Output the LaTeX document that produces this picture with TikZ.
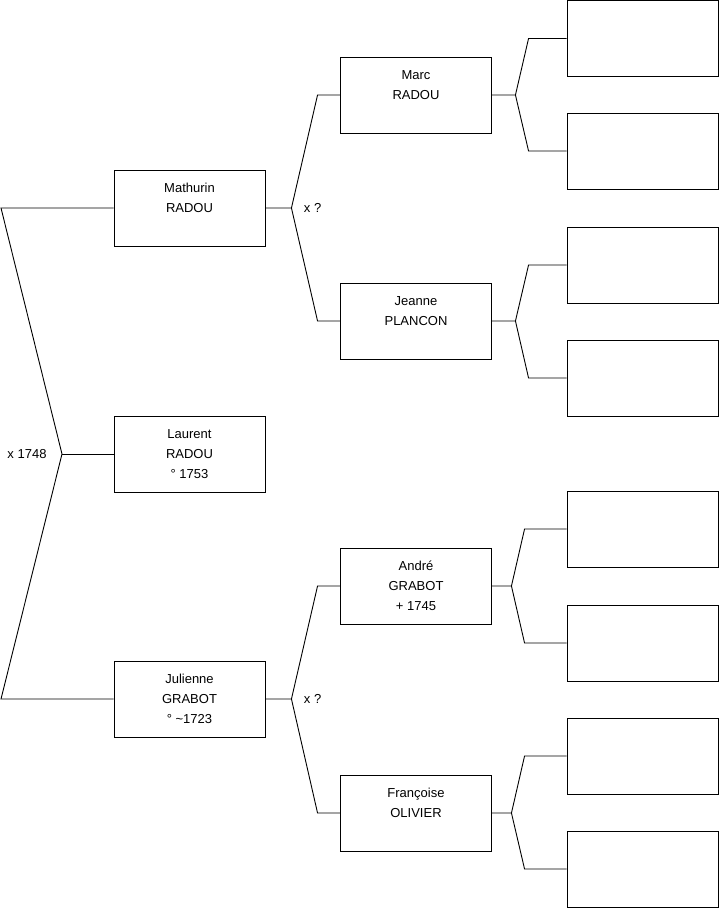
\documentclass[tikz,border=0pt]{standalone}
\usepackage{fontspec}
\setmainfont{Liberation Sans}
\usetikzlibrary{positioning}
\newcommand{\pers}[3]{\strut#1\\\strut#2\\\strut#3}

\begin{document}
\begin{tikzpicture}[x=1pt,y=-1pt,font=\fontsize{13}{20}\selectfont,
  box/.style={draw,rectangle,line width=0.9pt,minimum width=151pt,minimum height=76pt,inner sep=0pt,align=center},
  ln/.style={line width=0.9pt}]
  \useasboundingbox (0,0) rectangle (719,908);
  % first generation
  \node[box] (mathurin) at (189.5,208) {\pers{Mathurin}{RADOU}{}};
  \node[box] (laurent)  at (189.5,454) {\pers{Laurent}{RADOU}{\textdegree{} 1753}};
  \node[box] (julienne) at (189.5,699) {\pers{Julienne}{GRABOT}{\textdegree{} \textasciitilde1723}};
  % parents
  \node[box] (marc)      at (416,95)  {\pers{Marc}{RADOU}{}};
  \node[box] (jeanne)    at (416,321) {\pers{Jeanne}{PLANCON}{}};
  \node[box] (andre)     at (416,586) {\pers{André}{GRABOT}{+ 1745}};
  \node[box] (francoise) at (416,813) {\pers{Françoise}{OLIVIER}{}};
  % grandparents (empty)
  \node[box] (g1) at (642.5,38.5) {};
  \node[box] (g2) at (642.5,151)  {};
  \node[box] (g3) at (642.5,265)  {};
  \node[box] (g4) at (642.5,378)  {};
  \node[box] (g5) at (642.5,529)  {};
  \node[box] (g6) at (642.5,643)  {};
  \node[box] (g7) at (642.5,756)  {};
  \node[box] (g8) at (642.5,869)  {};
  % marriage of the couple
  \coordinate (k0)  at (62,454);
  \coordinate (k0a) at (1,208);
  \coordinate (k0b) at (1,699);
  \draw[ln] (mathurin.west) -- (k0a) -- (k0) -- (k0b) -- (julienne.west);
  \draw[ln] (laurent.west) -- (k0);
  \node (mar0) at (27,454) {x 1748};
  % parents of each spouse
  \foreach \c/\a/\b in {mathurin/marc/jeanne, julienne/andre/francoise}{
    \draw[ln] (\c.east) -- ++(26,0) coordinate (f\c) -- ([xshift=-22.5pt]\a.west) -- (\a.west);
    \draw[ln] (f\c) -- ([xshift=-22.5pt]\b.west) -- (\b.west);
    \node[right] at ([xshift=9pt]f\c) {x ?};
  }
  % grandparents
  \foreach \p/\a/\b/\d/\e in {marc/g1/g2/23.5/38, jeanne/g3/g4/23.5/38,
                              andre/g5/g6/19.5/42, francoise/g7/g8/19.5/42}{
    \draw[ln] (\p.east) -- ++(\d,0) coordinate (f\p) -- ([xshift=-\e pt]\a.west) -- (\a.west);
    \draw[ln] (f\p) -- ([xshift=-\e pt]\b.west) -- (\b.west);
  }
\end{tikzpicture}
\end{document}
